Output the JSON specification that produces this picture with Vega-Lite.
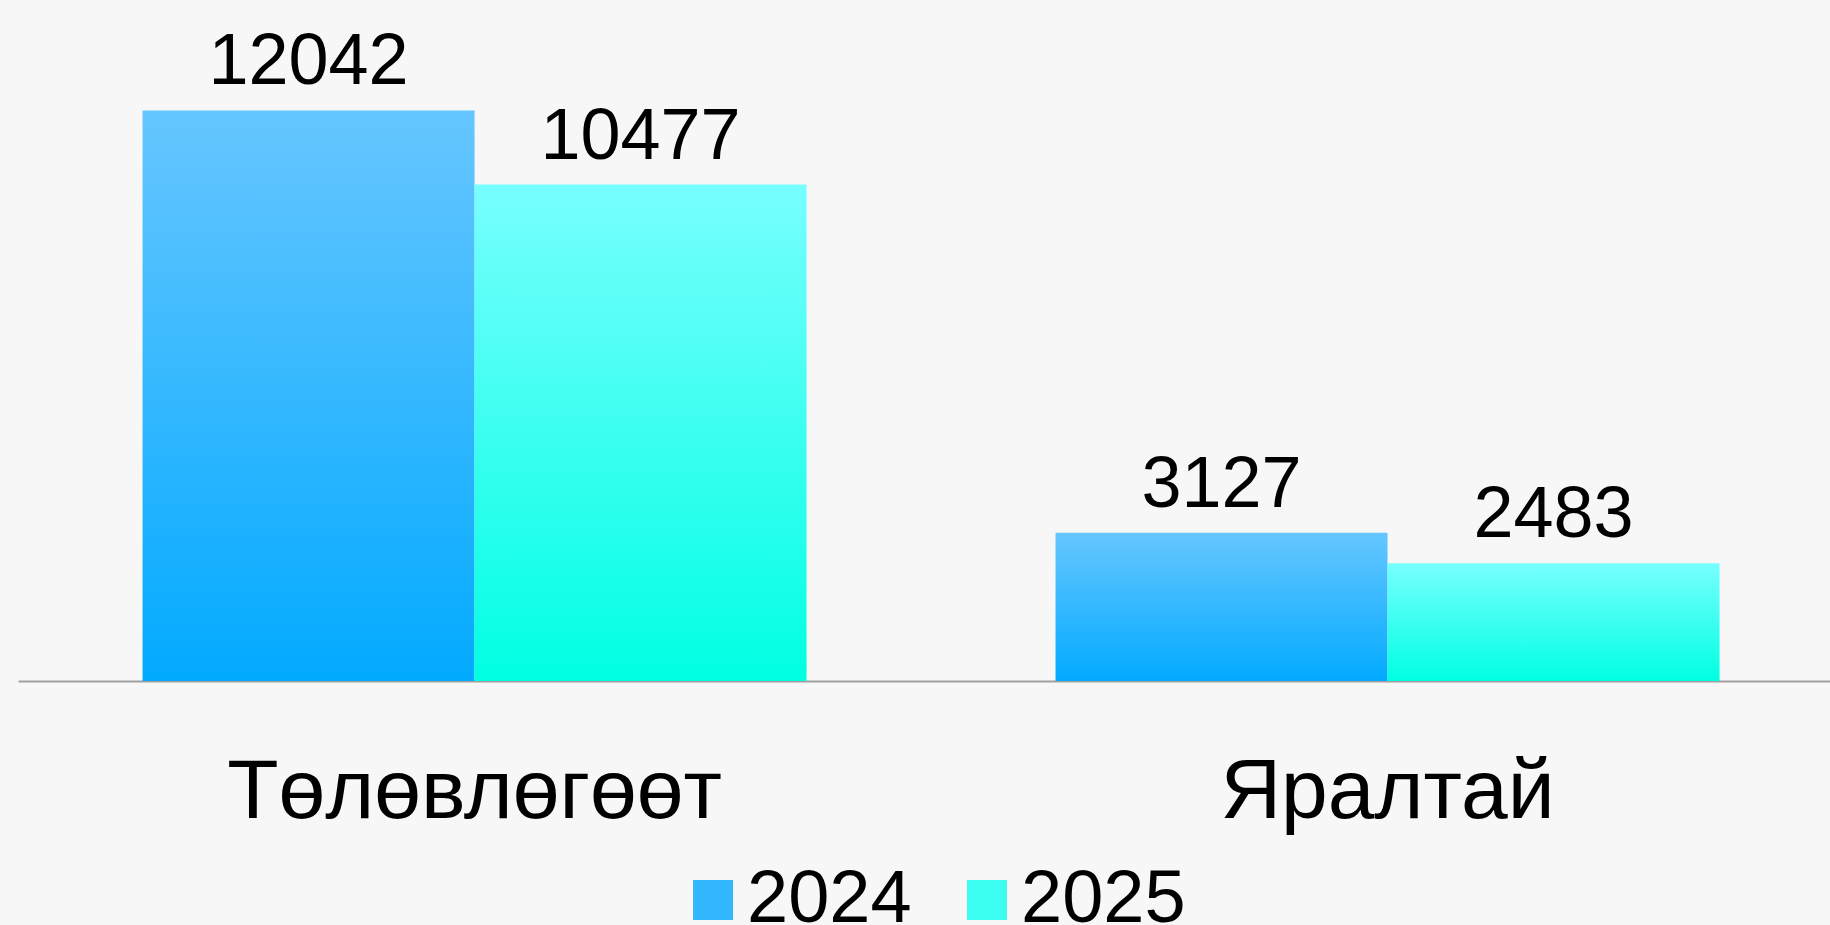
{
  "$schema": "https://vega.github.io/schema/vega-lite/v6.json",
  "width": 1812,
  "height": 681,
  "autosize": {"type": "none"},
  "padding": {"left": 18, "top": 0, "right": 0, "bottom": 244},
  "background": "#f7f7f7",
  "config": {
    "view": {"stroke": null},
    "font": "Liberation Sans"
  },
  "data": {
    "values": [
      {"category": "Төлөвлөгөөт", "year": "2024", "value": 12042},
      {"category": "Төлөвлөгөөт", "year": "2025", "value": 10477},
      {"category": "Яралтай", "year": "2024", "value": 3127},
      {"category": "Яралтай", "year": "2025", "value": 2483}
    ]
  },
  "encoding": {
    "x": {
      "field": "category",
      "type": "nominal",
      "sort": ["Төлөвлөгөөт", "Яралтай"],
      "scale": {"paddingInner": 0.2727, "paddingOuter": 0.1287, "align": 0.53},
      "axis": {
        "title": null,
        "labelAngle": 0,
        "labelFontSize": 84,
        "labelColor": "#000000",
        "labelBaseline": "alphabetic",
        "labelPadding": 136,
        "labelLimit": 0,
        "ticks": false,
        "tickSize": 0,
        "grid": false,
        "domainColor": "#a0a0a0",
        "domainWidth": 2
      }
    },
    "xOffset": {"field": "year", "type": "nominal", "sort": ["2024", "2025"]},
    "y": {
      "field": "value",
      "type": "quantitative",
      "scale": {"domain": [0, 14372], "nice": false},
      "axis": null
    }
  },
  "layer": [
    {
      "mark": {"type": "bar", "opacity": 0},
      "encoding": {
        "color": {
          "field": "year",
          "type": "nominal",
          "scale": {"domain": ["2024", "2025"], "range": ["#33b8ff", "#3cfff1"]},
          "legend": {
            "title": null,
            "orient": "none",
            "legendX": 658,
            "legendY": 863,
            "direction": "horizontal",
            "symbolType": "square",
            "symbolSize": 1600,
            "symbolStrokeWidth": 0,
            "symbolOpacity": 1,
            "labelFontSize": 74,
            "labelColor": "#000000",
            "labelOffset": -3,
            "labelLimit": 0,
            "columnPadding": 38
          }
        }
      }
    },
    {
      "mark": {"type": "bar"},
      "encoding": {
        "fill": {
          "condition": {
            "test": "datum.year === '2024'",
            "value": {"gradient": "linear", "x1": 0, "y1": 0, "x2": 0, "y2": 1, "stops": [{"offset": 0, "color": "#66c6ff"}, {"offset": 1, "color": "#02aaff"}]}
          },
          "value": {"gradient": "linear", "x1": 0, "y1": 0, "x2": 0, "y2": 1, "stops": [{"offset": 0, "color": "#77ffff"}, {"offset": 1, "color": "#00ffe2"}]}
        }
      }
    },
    {
      "mark": {"type": "text", "fontSize": 72, "baseline": "alphabetic", "dy": -26, "color": "#000000"},
      "encoding": {
        "text": {"field": "value", "type": "quantitative", "format": "d"}
      }
    }
  ]
}
